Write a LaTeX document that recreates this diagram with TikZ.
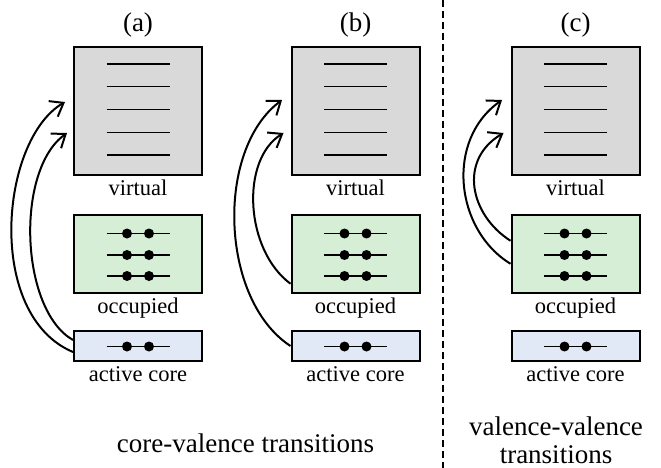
\documentclass[tikz,border=0pt]{standalone}
\usepackage{fontspec}
\setmainfont{Liberation Serif}
\usetikzlibrary{arrows.meta}
\definecolor{virtfill}{RGB}{217,217,217}
\definecolor{occfill}{RGB}{214,238,214}
\definecolor{corefill}{RGB}{226,233,246}
\begin{document}
\begin{tikzpicture}[x=1pt,y=-1pt,
  boxstyle/.style={draw=black, line width=2pt, inner sep=0pt, minimum width=128pt},
  vbox/.style={boxstyle, fill=virtfill, minimum height=128pt},
  obox/.style={boxstyle, fill=occfill, minimum height=77.5pt},
  cbox/.style={boxstyle, fill=corefill, minimum height=30pt},
  lbl/.style={font=\fontsize{22.5}{26}\selectfont, anchor=base, inner sep=0pt},
  ttl/.style={font=\fontsize{27}{30}\selectfont, anchor=base, inner sep=0pt},
  captext/.style={font=\fontsize{27}{30}\selectfont, anchor=base, inner sep=0pt},
  level/.style={line width=1.3pt},
  dot/.style={fill=black, draw=none},
  trans/.style={line width=2pt, -{Straight Barb[length=12pt,width=18pt,line width=2pt]}},
  sep/.style={line width=1.2pt, dash pattern=on 7pt off 4pt}
]
\useasboundingbox (0,0) rectangle (661,468);

\foreach \p/\cx in {a/138, b/355.5, c/575.5}{
  \node[ttl] (title\p) at (\cx,32) {(\p)};
  \node[vbox] (virt\p) at (\cx,111) {};
  \node[obox] (occ\p) at (\cx,253.75) {};
  \node[cbox] (core\p) at (\cx,346) {};
  \node[lbl] (vlbl\p) at (\cx,195) {virtual};
  \node[lbl] (olbl\p) at (\cx,313) {occupied};
  \node[lbl] (clbl\p) at (\cx,381.5) {active core};
  \foreach \yy in {64,86.7,109.3,132.3,155}{
    \draw[level] (\cx-31.5,\yy) -- (\cx+31.5,\yy);
  }
  \foreach \yy in {233.5,255,276}{
    \draw[level] (\cx-31.5,\yy) -- (\cx+31.5,\yy);
    \fill[dot] (\cx-11,\yy) circle (5pt);
    \fill[dot] (\cx+11,\yy) circle (5pt);
  }
  \draw[level] (\cx-31.5,346.5) -- (\cx+31.5,346.5);
  \fill[dot] (\cx-11,346.5) circle (5pt);
  \fill[dot] (\cx+11,346.5) circle (5pt);
}

% arrow targets
\coordinate (ta1) at (65,102);
\coordinate (ta2) at (67,133);
\coordinate (tb1) at (282,100);
\coordinate (tb2) at (283.5,133);
\coordinate (tc1) at (502,100);
\coordinate (tc2) at (503.5,133);

% (a)
\draw[trans] ([yshift=-6pt]corea.west) .. controls (-15,315) and (0,140) .. (ta1);
\draw[trans] ([yshift=6pt]corea.west) .. controls (20,310) and (15,170) .. (ta2);
% (b)
\draw[trans] ([yshift=0pt]coreb.west) .. controls (220,300) and (215,150) .. (tb1);
\draw[trans] ([yshift=-30pt]occb.west) .. controls (245,250) and (240,160) .. (tb2);
% (c)
\draw[trans] ([yshift=-10pt]occc.west) .. controls (455,230) and (445,140) .. (tc1);
\draw[trans] ([yshift=13pt]occc.west) .. controls (470,215) and (458,160) .. (tc2);

% separator
\coordinate (septop) at (443,0);
\coordinate (sepbot) at (443,468);
\draw[sep] (septop) -- (sepbot);

\node[captext] (capcv) at (245.5,452) {core-valence transitions};
\node[captext] (capvv1) at (556,435) {valence-valence};
\node[captext] (capvv2) at (556,463) {transitions};
\end{tikzpicture}
\end{document}
